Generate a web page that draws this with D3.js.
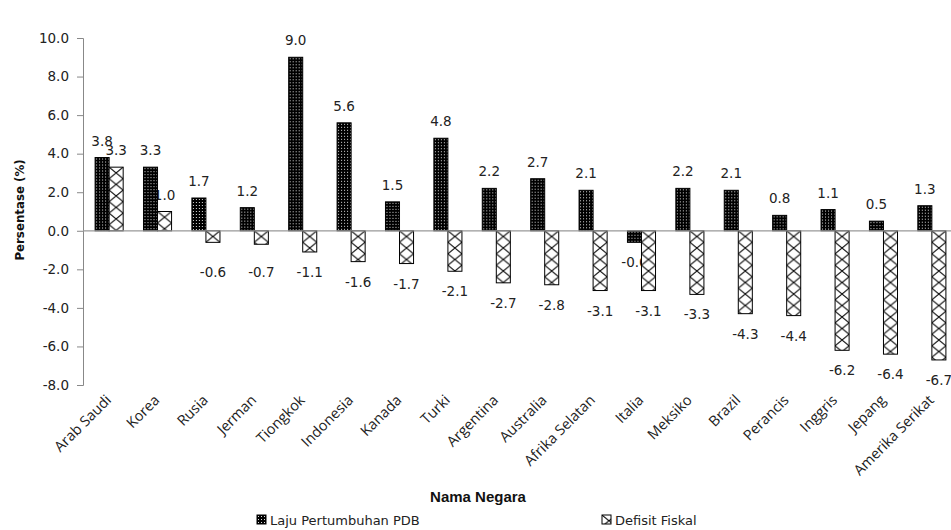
<!DOCTYPE html>
<html lang="en">
<head>
<meta charset="utf-8">
<title>PDB dan Defisit Fiskal</title>
<style>
  body { margin: 0; background: #fff; }
  svg { display: block; }
  .tick text { font-family: "DejaVu Sans", Verdana, sans-serif; font-size: 13.5px; fill: #222; }
  .lbl { font-family: "DejaVu Sans", Verdana, sans-serif; font-size: 13.5px; fill: #222; }
  .cat { font-family: "Open Sans", "Liberation Sans", sans-serif; font-size: 14.5px; fill: #222; }
</style>
<script src="https://cdnjs.cloudflare.com/ajax/libs/d3/7.8.5/d3.min.js"></script>
</head>
<body>
<script>
var countries = ["Arab Saudi", "Korea", "Rusia", "Jerman", "Tiongkok", "Indonesia", "Kanada", "Turki",
  "Argentina", "Australia", "Afrika Selatan", "Italia", "Meksiko", "Brazil", "Perancis", "Inggris",
  "Jepang", "Amerika Serikat"];
var pdb = [3.8, 3.3, 1.7, 1.2, 9.0, 5.6, 1.5, 4.8, 2.2, 2.7, 2.1, -0.6, 2.2, 2.1, 0.8, 1.1, 0.5, 1.3];
var defisit = [3.3, 1.0, -0.6, -0.7, -1.1, -1.6, -1.7, -2.1, -2.7, -2.8, -3.1, -3.1, -3.3, -4.3, -4.4, -6.2, -6.4, -6.7];
var seriesNames = ["Laju Pertumbuhan PDB", "Defisit Fiskal"];
var yTicks = [-8, -6, -4, -2, 0, 2, 4, 6, 8, 10];

var width = 951, height = 530;
var svg = d3.select("body").append("svg").attr("width", width).attr("height", height);

// hyphen instead of unicode minus
function fmt(v) { return v.toFixed(1); }

// patterns
var defs = svg.append("defs");
var pDot = defs.append("pattern").attr("id", "dots")
  .attr("patternUnits", "userSpaceOnUse").attr("width", 3).attr("height", 3);
pDot.append("rect").attr("width", 3).attr("height", 3).attr("fill", "#000");
pDot.append("rect").attr("x", 1).attr("y", 1).attr("width", 1).attr("height", 1).attr("fill", "#ddd");

var pX = defs.append("pattern").attr("id", "cross")
  .attr("patternUnits", "userSpaceOnUse").attr("width", 14).attr("height", 11.5);
pX.append("rect").attr("width", 14).attr("height", 11.5).attr("fill", "#fff");
pX.append("path").attr("d", "M0,0L14,11.5M14,0L0,11.5").attr("stroke", "#000").attr("stroke-width", 1);

var x0 = d3.scaleBand().domain(countries).range([83, 958]).paddingInner(0.42).paddingOuter(0.25);
var x1 = d3.scaleBand().domain([0, 1]).range([0, x0.bandwidth()]);
var y = d3.scaleLinear().domain([-8, 10]).range([385, 38]);

// y axis
var yAxis = svg.append("g").attr("transform", "translate(83,0)")
  .call(d3.axisLeft(y).tickValues(yTicks).tickFormat(fmt).tickSize(6).tickPadding(8));
yAxis.select(".domain").attr("stroke", "#888");
yAxis.selectAll(".tick line").attr("stroke", "#888");

var rows = countries.map(function(c, i) { return { c: c, v: [pdb[i], defisit[i]] }; });

var groups = svg.selectAll("g.grp").data(rows).enter().append("g").attr("class", "grp");

// value labels (drawn first, bars sit over them like the original)
[0, 1].forEach(function(s) {
  groups.append("text").attr("class", "lbl")
    .attr("text-anchor", "middle")
    .attr("x", function(d) { return x0(d.c) + x1(s) + x1.bandwidth() / 2; })
    .attr("y", function(d) {
      var v = d.v[s];
      if (v >= 0) return y(v) - 12;
      if (s === 1) return Math.max(y(v) + 25, y(0) + 46);
      return y(v) + 25;
    })
    .text(function(d) { return fmt(d.v[s]); });
});

[0, 1].forEach(function(s) {
  var bar = groups.append("g")
    .attr("transform", function(d) { return "translate(" + (x0(d.c) + x1(s)) + "," + y(Math.max(0, d.v[s])) + ")"; });
  bar.append("rect")
    .attr("x", 0).attr("y", 0)
    .attr("width", x1.bandwidth())
    .attr("height", function(d) { return Math.abs(y(d.v[s]) - y(0)); })
    .attr("fill", s === 0 ? "url(#dots)" : "url(#cross)")
    .attr("stroke", "#000").attr("stroke-width", 1);
});

// zero line
svg.append("line").attr("x1", 83).attr("x2", width).attr("y1", y(0)).attr("y2", y(0))
  .attr("stroke", "#999").attr("stroke-width", 1.2);

// category labels
svg.selectAll("text.cat").data(countries).enter().append("text").attr("class", "cat")
  .attr("text-anchor", "end")
  .attr("transform", function(d) { return "translate(" + (x0(d) + x0.bandwidth() / 2 + 3) + ",401) rotate(-45)"; })
  .text(function(d) { return d; });

// axis titles
svg.append("text").attr("transform", "translate(24,210) rotate(-90)")
  .attr("text-anchor", "middle")
  .style("font-family", "'DejaVu Sans', Verdana, sans-serif").style("font-size", "11.8px").style("font-weight", "bold")
  .attr("fill", "#111").text("Persentase (%)");

svg.append("text").attr("x", 478).attr("y", 502).attr("text-anchor", "middle")
  .style("font-family", "'Liberation Sans', Arial, sans-serif").style("font-size", "15px").style("font-weight", "bold")
  .attr("fill", "#111").text("Nama Negara");

// legend
var legX = [257, 602];
var leg = svg.selectAll("g.leg").data(seriesNames).enter().append("g").attr("class", "leg")
  .attr("transform", function(d, i) { return "translate(" + legX[i] + ",515)"; });
leg.append("rect").attr("x", 0).attr("y", 0).attr("width", 9).attr("height", 9)
  .attr("fill", function(d, i) { return i === 0 ? "url(#dots)" : "url(#cross)"; })
  .attr("stroke", "#000");
leg.append("text").attr("x", 13).attr("y", 10)
  .style("font-family", "'DejaVu Sans', Verdana, sans-serif").style("font-size", "13px")
  .attr("fill", "#222").text(function(d) { return d; });
</script>
</body>
</html>
